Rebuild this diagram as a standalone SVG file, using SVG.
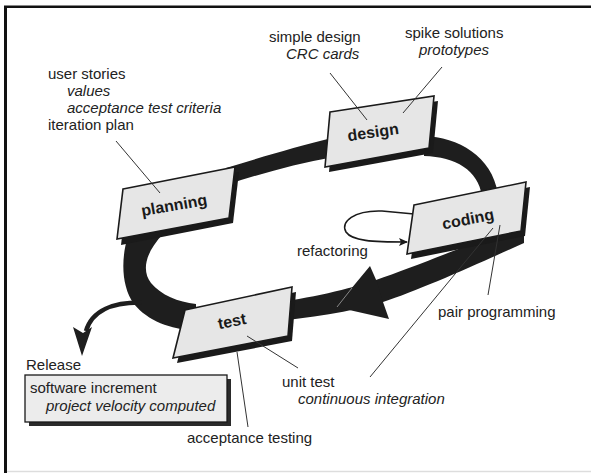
<svg xmlns="http://www.w3.org/2000/svg" width="591" height="473" viewBox="0 0 591 473">
<defs>
<style>
.lbl{font-family:"Liberation Sans",Arial,sans-serif;font-size:15px;fill:#222}
.it{font-style:italic}
.card{fill:#e6e6e6;stroke:#1a1a1a;stroke-width:1.6;stroke-linejoin:miter}
.shadow{fill:#1a1a1a}
.ctitle{font-family:"Liberation Sans",Arial,sans-serif;font-size:16px;font-weight:bold;fill:#1a1a1a;text-anchor:middle}
.band{fill:#1e1e1e}
.leader{stroke:#333;stroke-width:1;fill:none}
</style>
<marker id="refArrow" markerWidth="10" markerHeight="8" refX="8" refY="4" orient="auto" markerUnits="userSpaceOnUse">
<path d="M0,0 L9,4 L0,8 L2,4 Z" fill="#1a1a1a"/>
</marker>
</defs>
<rect x="0" y="0" width="591" height="473" fill="#fff"/>
<!-- frame -->
<line x1="5.5" y1="6" x2="5.5" y2="473" stroke="#111" stroke-width="3"/>
<line x1="4" y1="6.7" x2="591" y2="6.7" stroke="#111" stroke-width="2.5"/>
<line x1="7" y1="471.5" x2="591" y2="471.5" stroke="#ddd" stroke-width="1.5"/>

<g id="connectors">
  <!-- planning to design -->
  <path class="band" d="M226,168 C262,157 295,147 336,137 L334,157 C296,164 262,173 226,185 Z"/>
  <!-- design to coding -->
  <path class="band" d="M424,136 C458,137 492,156 498,194 L482,196 C478,170 456,157 424,156 Z"/>
  <!-- coding to test -->
  <path class="band" d="M524,223 C490,236 420,265 376,280 C350,289 310,298 268,304 L268,322 C310,318 350,312 383,302 C420,290 482,262 524,243 Z"/>
  <polygon class="band" points="336,307 370,266 377,282 383,302 389,319"/>
  <line x1="337" y1="307" x2="352" y2="288" stroke="#888" stroke-width="1"/>
  <!-- test to planning -->
  <path class="band" d="M128,236 C121,258 121,286 134,304 C148,321 170,329 196,331 L196,304 C178,302 161,295 151,283 C141,270 146,252 163,234 Z"/>
  <!-- release arrow -->
  <path d="M142,302.5 C114,302 92,310 86,331" fill="none" stroke="#1e1e1e" stroke-width="4.5"/>
  <polygon class="band" points="82,356 73,327 83,333 92,327"/>
  <!-- refactoring loop -->
  <path d="M414,214 L382,211 C354,210 340,222 346,232 C352,241 372,242 407,242" fill="none" stroke="#1a1a1a" stroke-width="1.6" marker-end="url(#refArrow)"/>
</g>

<g id="node-planning">
  <polygon class="shadow" points="127,194 239,172 233,223 121,245"/>
  <polygon class="card" points="123,189 235,167 229,218 117,239"/>
  <text class="ctitle" transform="translate(174,205) rotate(-10)" dy="0.35em">planning</text>
</g>
<g id="node-design">
  <polygon class="shadow" points="334,117 438,101 433,153 329,172"/>
  <polygon class="card" points="330,112 434,96 429,148 325,167"/>
  <text class="ctitle" transform="translate(373,132) rotate(-8)" dy="0.35em">design</text>
</g>
<g id="node-coding">
  <polygon class="shadow" points="418,210 530,187 525,236 411,259"/>
  <polygon class="card" points="414,205 526,182 521,231 407,254"/>
  <text class="ctitle" transform="translate(468,219) rotate(-11)" dy="0.35em">coding</text>
</g>
<g id="node-test">
  <polygon class="shadow" points="189,315 296,292 292,341 177,363"/>
  <polygon class="card" points="185,310 292,287 288,336 173,358"/>
  <text class="ctitle" transform="translate(232,321) rotate(-11)" dy="0.35em">test</text>
</g>
<g id="node-release">
  <text class="lbl" x="26" y="370">Release</text>
  <rect x="29" y="379" width="202" height="47" fill="#2a2a2a"/>
  <rect x="25" y="375" width="202" height="47" fill="#ececec" stroke="#1a1a1a" stroke-width="1.3"/>
  <text class="lbl" x="30" y="393">software increment</text>
  <text class="lbl it" x="46" y="411">project velocity computed</text>
</g>

<g id="leaders">
  <line class="leader" x1="116" y1="141" x2="160" y2="193"/>
  <line class="leader" x1="330" y1="73" x2="367" y2="120"/>
  <line class="leader" x1="442" y1="67" x2="403" y2="113"/>
  <line class="leader" x1="500" y1="225" x2="488" y2="295"/>
  <line class="leader" x1="493" y1="228" x2="370" y2="377"/>
  <line class="leader" x1="247" y1="336" x2="298" y2="368"/>
  <line class="leader" x1="237" y1="352" x2="248" y2="427"/>
</g>

<g id="labels">
  <text class="lbl" x="48" y="79">user stories</text>
  <text class="lbl it" x="67" y="96">values</text>
  <text class="lbl it" x="67" y="113">acceptance test criteria</text>
  <text class="lbl" x="48" y="130">iteration plan</text>
  <text class="lbl" x="269" y="42">simple design</text>
  <text class="lbl it" x="286" y="59">CRC cards</text>
  <text class="lbl" x="405" y="38">spike solutions</text>
  <text class="lbl it" x="419" y="55">prototypes</text>
  <text class="lbl" x="297" y="256">refactoring</text>
  <text class="lbl" x="438" y="317">pair programming</text>
  <text class="lbl" x="282" y="387">unit test</text>
  <text class="lbl it" x="298" y="404">continuous integration</text>
  <text class="lbl" x="187" y="443">acceptance testing</text>
</g>
</svg>
